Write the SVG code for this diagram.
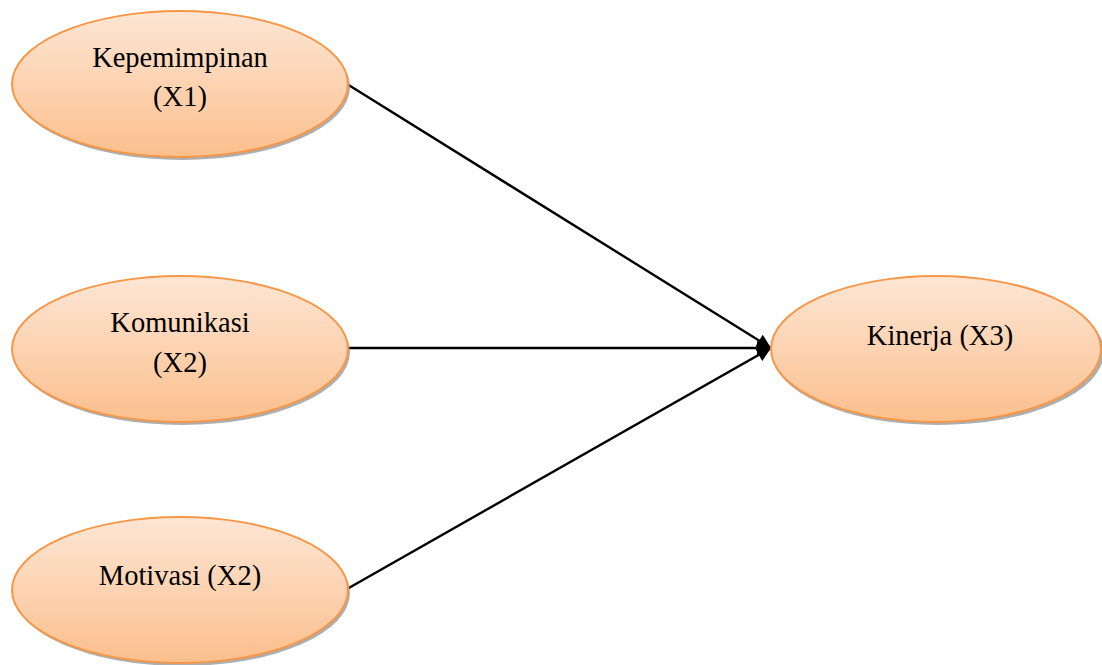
<svg xmlns="http://www.w3.org/2000/svg" width="1102" height="665" viewBox="0 0 1102 665">
<defs>
<linearGradient id="g" x1="0" y1="0" x2="0" y2="1">
<stop offset="0" stop-color="#fde6d4"/>
<stop offset="0.5" stop-color="#fdd3b2"/>
<stop offset="1" stop-color="#fbbf8c"/>
</linearGradient>
<marker id="arr" viewBox="0 0 10 10" refX="10" refY="5" markerWidth="16" markerHeight="14" markerUnits="userSpaceOnUse" orient="auto">
<path d="M0,0 L10,5 L0,10 Z" fill="#000"/>
</marker>
</defs>
<style>
.sh{fill:#9a9a9a;opacity:0.8}
.el{fill:url(#g);stroke:#f79646;stroke-width:2}
.t{font-family:"Liberation Serif","Times New Roman",serif;font-size:28.5px;fill:#000;text-anchor:middle}
.c{stroke:#000;stroke-width:2.4;fill:none;marker-end:url(#arr)}
</style>
<rect width="1102" height="665" fill="#fff"/>
<g id="connectors">
<line class="c" x1="347" y1="84" x2="771" y2="348"/>
<line class="c" x1="348" y1="348" x2="771" y2="348"/>
<line class="c" x1="347" y1="589" x2="771" y2="348"/>
</g>
<g id="kepemimpinan">
<ellipse class="sh" cx="182" cy="87" rx="168" ry="73"/>
<ellipse class="el" cx="180" cy="84" rx="168" ry="73"/>
<text class="t" x="180" y="67">Kepemimpinan</text>
<text class="t" x="180" y="106">(X1)</text>
</g>
<g id="komunikasi">
<ellipse class="sh" cx="182" cy="352" rx="168" ry="73"/>
<ellipse class="el" cx="180" cy="349" rx="168" ry="73"/>
<text class="t" x="180" y="332">Komunikasi</text>
<text class="t" x="180" y="372">(X2)</text>
</g>
<g id="motivasi">
<ellipse class="sh" cx="182" cy="593" rx="168" ry="73"/>
<ellipse class="el" cx="180" cy="590" rx="168" ry="73"/>
<text class="t" x="180" y="585">Motivasi (X2)</text>
</g>
<g id="kinerja">
<ellipse class="sh" cx="938" cy="352" rx="166" ry="73"/>
<ellipse class="el" cx="936" cy="349" rx="165" ry="73"/>
<text class="t" x="940" y="345">Kinerja (X3)</text>
</g>
</svg>
